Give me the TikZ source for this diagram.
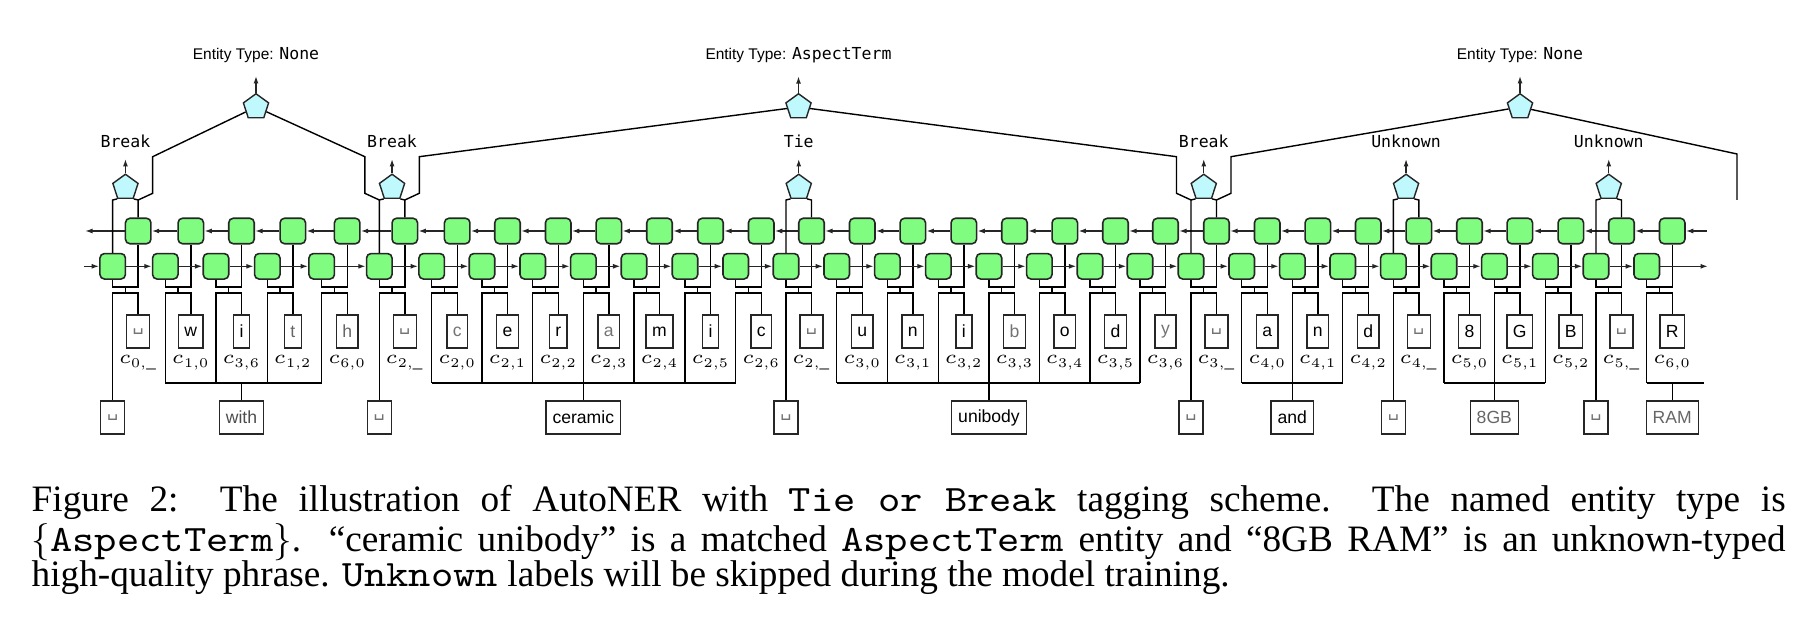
\documentclass[tikz,border=0pt]{standalone}
\usepackage{fix-cm}
\usepackage{fontspec}
\setmainfont{Liberation Serif}
\setsansfont{Liberation Sans}
\setmonofont{lmmono10-regular.otf}[FakeStretch=1.14]
\newfontfamily\tagfont{DejaVu Sans Mono}
\newfontfamily\symfont{DejaVu Sans}
\usetikzlibrary{arrows.meta,shapes.geometric,calc}
\definecolor{cellgreen}{HTML}{80FC80}
\definecolor{tagcyan}{HTML}{BFF9FD}
\definecolor{netline}{HTML}{262626}
\newcommand{\tg}[1]{{\tagfont\fontsize{4.7pt}{5.5pt}\selectfont #1}}
\newcommand{\vs}{{\symfont ␣}}
\tikzset{
  cellbox/.style={
    draw=netline,
    line width=0.45pt,
    fill=cellgreen,
    rounded corners=0.45mm,
    minimum size=2.55mm,
    inner sep=0pt
  },
  tagshape/.style={
    draw=netline,
    fill=tagcyan,
    regular polygon,
    regular polygon sides=5,
    minimum size=2.65mm,
    inner sep=0pt
  },
  charbox/.style={
    draw=netline,
    minimum height=3.3mm,
    minimum width=1.6mm,
    inner xsep=0.6mm,
    inner ysep=0pt,
    font=\sffamily\fontsize{5pt}{6pt}\selectfont
  },
  wordbox/.style={charbox, inner xsep=0.65mm},
  sublabel/.style={inner sep=0pt, font=\fontsize{5.4pt}{6pt}\selectfont},
  taglabel/.style={inner xsep=0pt, inner ysep=1mm, font=\tagfont\fontsize{4.7pt}{5.5pt}\selectfont},
  typelabel/.style={inner xsep=0pt, inner ysep=1.2mm, font=\sffamily\fontsize{4.4pt}{5.5pt}\selectfont},
  arrow/.style={-{Latex[length=0.75mm,width=0.5mm]}, draw=netline},
  caption/.style={text width=175.4mm, align=justify, inner sep=0pt, font=\fontsize{10.6pt}{10.1pt}\selectfont}
}

\begin{document}
\begin{tikzpicture}[x=0.1mm, y=-0.1mm]
  \useasboundingbox (0,0) rectangle (1812,618);

  % rows and levels
  \coordinate (trow) at (0,60);
  \coordinate (nrow) at (0,148);
  \coordinate (prow) at (0,187.5);
  \coordinate (leg) at (0,200);
  \coordinate (wl) at (0,383);
  \coordinate (wb) at (0,417.5);

  % one column per character: forward cell, backward cell, character
  \foreach \xf/\chr/\ix/\tcol [count=\i from 0] in {
    112.7/\vs/{0,\_}/black!55,
    165.3/w/{1,0}/black,
    216.0/i/{3,6}/black,
    267.3/t/{1,2}/black!60,
    321.7/h/{6,0}/black!60,
    379.3/\vs/{2,\_}/black!55,
    431.7/c/{2,0}/black!55,
    482.0/e/{2,1}/black,
    532.7/r/{2,2}/black,
    583.3/a/{2,3}/black!55,
    634.0/m/{2,4}/black,
    685.0/i/{2,5}/black,
    735.7/c/{2,6}/black,
    786.0/\vs/{2,\_}/black!55,
    836.7/u/{3,0}/black,
    887.3/n/{3,1}/black,
    938.3/i/{3,2}/black,
    989.0/b/{3,3}/black!55,
    1039.3/o/{3,4}/black,
    1090.0/d/{3,5}/black,
    1140.0/y/{3,6}/black!55,
    1191.0/\vs/{3,\_}/black!55,
    1241.7/a/{4,0}/black,
    1292.3/n/{4,1}/black,
    1342.7/d/{4,2}/black,
    1393.3/\vs/{4,\_}/black!55,
    1444.0/8/{5,0}/black,
    1494.3/G/{5,1}/black,
    1545.3/B/{5,2}/black,
    1596.0/\vs/{5,\_}/black!55,
    1646.7/R/{6,0}/black} {
    \node[cellbox] (f\i) at (\xf,266.3) {};
    \node[cellbox] (b\i) at (\xf+25.5,231) {};
    \node[charbox, text=\tcol] (c\i) at (\xf+25.5,331.5) {\chr};
    \node[sublabel] (s\i) at (\xf+25.5,363) {$c_{\ix}$};
    \coordinate (j\i) at (\xf+12.75,287);
    \coordinate (k\i) at (\xf+12.75,293);
    \draw (f\i.south) |- (j\i) -| (b\i.south);
    \draw (j\i) -- (k\i);
    \draw (c\i.north) |- (k\i) -- (f\i |- k\i) -- (f\i |- wl);
  }

  % recurrent connections
  \coordinate (fin) at (84,266.3);
  \coordinate (fout) at (1708,266.3);
  \coordinate (bin) at (1707,231);
  \coordinate (bout) at (85,231);
  \draw[arrow] (fin) -- (f0);
  \draw[arrow] (f30) -- (fout);
  \draw[arrow] (bin) -- (b30);
  \draw[arrow] (b0) -- (bout);
  \foreach \i [evaluate=\i as \j using int(\i+1)] in {0,...,29} {
    \draw[arrow] (f\i) -- (f\j);
    \draw[arrow] (b\j) -- (b\i);
  }

  % tie or break outputs
  \foreach \i/\tagname in {0/Break,5/Break,13/Tie,21/Break,25/Unknown,29/Unknown} {
    \node[tagshape] (t\i) at (j\i |- prow) {};
    \node[taglabel, anchor=base] (n\i) at (j\i |- nrow) {\tagname};
    \draw[arrow] (t\i) -- (n\i);
    \draw (f\i.north) -- (f\i |- leg) -- (t\i.corner 3);
    \draw (b\i.north) -- (b\i |- leg) -- (t\i.corner 4);
  }

  % entity type outputs
  \node[tagshape] (e1) at (256,107) {};
  \node[tagshape] (e2) at (798.5,107) {};
  \node[tagshape] (e3) at (1520,107) {};
  \node[typelabel, anchor=base] (l1) at (e1 |- trow) {Entity Type: \tg{None}};
  \node[typelabel, anchor=base] (l2) at (e2 |- trow) {Entity Type: \tg{AspectTerm}};
  \node[typelabel, anchor=base] (l3) at (e3 |- trow) {Entity Type: \tg{None}};
  \draw[arrow] (e1) -- (l1);
  \draw[arrow] (e2) -- (l2);
  \draw[arrow] (e3) -- (l3);
  \coordinate (rend) at (1737,200);
  \draw (b0 |- leg) -- ++(14.5,-6.7) -- ++(0,-36.6) -- (e1);
  \draw (f5 |- leg) -- ++(-14.5,-6.7) -- ++(0,-36.6) -- (e1);
  \draw (b5 |- leg) -- ++(14.5,-6.7) -- ++(0,-36.6) -- (e2);
  \draw (f21 |- leg) -- ++(-14.5,-6.7) -- ++(0,-36.6) -- (e2);
  \draw (b21 |- leg) -- ++(14.5,-6.7) -- ++(0,-36.6) -- (e3);
  \draw (rend) -- ++(0,-46) -- (e3);

  % words
  \foreach \i in {0,5,13,21,25,29} {
    \node[wordbox, text=black!55] (u\i) at (f\i |- wb) {\vs};
    \draw (u\i) -- (f\i |- wl);
  }
  \node[wordbox, text=black!70] (with) at (b2 |- wb) {with};
  \node[wordbox] (ceramic) at (f9 |- wb) {ceramic};
  \node[wordbox] (unibody) at (f17 |- wb) {unibody};
  \node[wordbox] (and) at (f23 |- wb) {and};
  \node[wordbox, text=black!60] (gb) at (f27 |- wb) {8GB};
  \node[wordbox, text=black!60] (ram) at (b30 |- wb) {RAM};
  \draw (f1 |- wl) -- (f4 |- wl);
  \draw (f6 |- wl) -- (f12 |- wl);
  \draw (f14 |- wl) -- (f20 |- wl);
  \draw (f22 |- wl) -- (f24 |- wl);
  \draw (f26 |- wl) -- (f28 |- wl);
  \draw (f30 |- wl) -- ++(57,0);
  \foreach \w in {with,ceramic,unibody,and,gb,ram}
    \draw (\w) -- (\w |- wl);

  \node[caption, anchor=north west] (cap) at (31,485) {Figure 2:\ \ The illustration of AutoNER with \texttt{Tie or Break} tagging scheme.\ \ The named entity type is\linebreak $\{$\texttt{AspectTerm}$\}$. “ceramic unibody” is a matched \texttt{AspectTerm} entity and “8GB RAM” is an unknown-typed\linebreak high-quality phrase. \texttt{Unknown} labels will be skipped during the model training.};
\end{tikzpicture}
\end{document}
